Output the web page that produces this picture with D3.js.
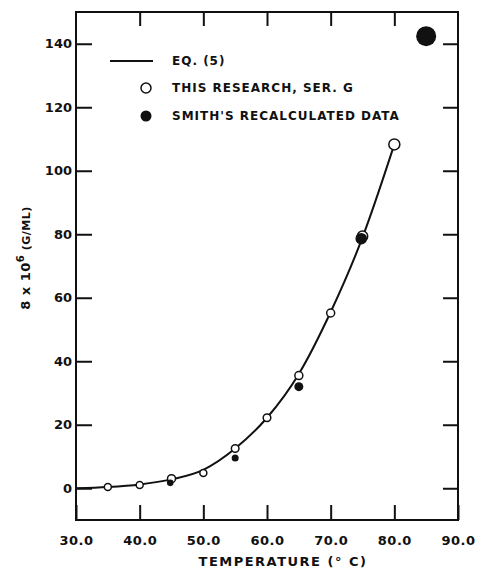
<!DOCTYPE html>
<html>
<head>
<meta charset="utf-8">
<script src="https://cdn.jsdelivr.net/npm/d3@7"></script>
<style>
  html, body { margin: 0; padding: 0; background: #fff; }
  text { font-family: "DejaVu Sans", sans-serif; font-weight: bold; fill: #111; }
</style>
</head>
<body>
<svg id="chart" width="477" height="570"></svg>
<script>
// ---- data ----
const xTicks = [30, 40, 50, 60, 70, 80, 90];
const yTicks = [0, 20, 40, 60, 80, 100, 120, 140];

// Eq. (5) curve
const eqTemps  = [30, 35, 40, 45, 50, 55, 60, 65, 70, 75, 80];
const eqValues = [0, 0.4, 1.2, 2.8, 5.8, 12.5, 22.2, 36, 55.5, 79, 108.3];

// This research, ser. G (open circles)
const openTemps  = [35, 40, 45, 50, 55, 60, 65, 70, 75, 80];
const openValues = [0.4, 1.0, 3.0, 4.8, 12.5, 22.2, 35.5, 55.2, 79.4, 108.3];

// Smith's recalculated data (filled circles)
const smithTemps  = [44.8, 55, 65, 74.8, 85];
const smithValues = [1.7, 9.5, 32, 78.6, 142.4];

const legendLabels = ["EQ. (5)", "THIS RESEARCH, SER. G", "SMITH'S RECALCULATED DATA"];

// ---- layout ----
const svg = d3.select("#chart");
const x = d3.scaleLinear().domain([30, 90]).range([76, 458]);
const y = d3.scaleLinear().domain([-10, 150]).range([520, 12]);

// marker radii (style)
const openR = [3.5, 3.5, 4, 3.5, 3.8, 3.8, 4, 4, 5.2, 5.5];
const smithR = [3.3, 3.5, 4.5, 5.8, 10];

// axes with inward ticks
const gB = svg.append("g").attr("transform", `translate(0,${y.range()[0]})`)
  .call(d3.axisBottom(x).tickValues(xTicks).tickFormat(d3.format(".1f"))
        .tickSizeInner(-15).tickSizeOuter(0).tickPadding(16));
const gT = svg.append("g").attr("transform", `translate(0,${y.range()[1]})`)
  .call(d3.axisTop(x).tickValues(xTicks.slice(1, -1)).tickFormat("")
        .tickSizeInner(-14).tickSizeOuter(0));
const gL = svg.append("g").attr("transform", `translate(${x.range()[0]},0)`)
  .call(d3.axisLeft(y).tickValues(yTicks).tickSizeInner(-16).tickSizeOuter(0).tickPadding(4));
const gR = svg.append("g").attr("transform", `translate(${x.range()[1]},0)`)
  .call(d3.axisRight(y).tickValues(yTicks).tickFormat("").tickSizeInner(-15).tickSizeOuter(0));

[gB, gT, gL, gR].forEach(g => {
  g.select(".domain").remove();
  g.selectAll(".tick line").attr("stroke", "#111").attr("stroke-width", 2);
  g.selectAll(".tick text").attr("font-size", 13).attr("fill", "#111")
    .attr("font-family", "DejaVu Sans, sans-serif").attr("font-weight", "bold");
});
gB.selectAll(".tick text").attr("letter-spacing", 0.5);

// frame
svg.append("rect")
  .attr("x", x.range()[0]).attr("y", y.range()[1])
  .attr("width", x.range()[1] - x.range()[0])
  .attr("height", y.range()[0] - y.range()[1])
  .attr("fill", "none").attr("stroke", "#111").attr("stroke-width", 2);

// curve
const eqData = eqTemps.map((t, i) => [t, eqValues[i]]);
svg.append("path")
  .datum(eqData)
  .attr("fill", "none").attr("stroke", "#111").attr("stroke-width", 2)
  .attr("d", d3.line().x(d => x(d[0])).y(d => y(d[1])).curve(d3.curveMonotoneX));

// open circles
svg.selectAll("circle.open")
  .data(openTemps.map((t, i) => ({ t, v: openValues[i], r: openR[i] })))
  .enter().append("circle").attr("class", "open")
  .attr("cx", d => x(d.t)).attr("cy", d => y(d.v)).attr("r", d => d.r)
  .attr("fill", "#fff")
  .attr("stroke", "#111").attr("stroke-width", 1.5);

// Smith filled
svg.selectAll("circle.smith")
  .data(smithTemps.map((t, i) => ({ t, v: smithValues[i], r: smithR[i] })))
  .enter().append("circle").attr("class", "smith")
  .attr("cx", d => x(d.t)).attr("cy", d => y(d.v)).attr("r", d => d.r)
  .attr("fill", "#111");

// legend
const lg = svg.append("g");
lg.append("line").attr("x1", 110).attr("x2", 153).attr("y1", 61).attr("y2", 61)
  .attr("stroke", "#111").attr("stroke-width", 2);
lg.append("circle").attr("cx", 146).attr("cy", 88).attr("r", 5)
  .attr("fill", "#fff").attr("stroke", "#111").attr("stroke-width", 1.5);
lg.append("circle").attr("cx", 146).attr("cy", 116).attr("r", 5.5).attr("fill", "#111");
[61, 88, 116].forEach((yy, i) => {
  lg.append("text").attr("x", 172).attr("y", yy).attr("dy", "0.36em")
    .attr("font-size", 12).attr("letter-spacing", 1)
    .text(legendLabels[i]);
});

// axis titles
svg.append("text")
  .attr("x", 283).attr("y", 566)
  .attr("text-anchor", "middle").attr("font-size", 13).attr("letter-spacing", 1.5)
  .text("TEMPERATURE (° C)");

const yt = svg.append("text")
  .attr("transform", "translate(30,258) rotate(-90)")
  .attr("text-anchor", "middle").attr("font-size", 13).attr("letter-spacing", 0.5);
yt.append("tspan").text("8 x 10");
yt.append("tspan").attr("dy", -6).attr("font-size", 10).text("6");
yt.append("tspan").attr("dy", 6).attr("font-size", 11).text(" (G/ML)");
</script>
</body>
</html>
